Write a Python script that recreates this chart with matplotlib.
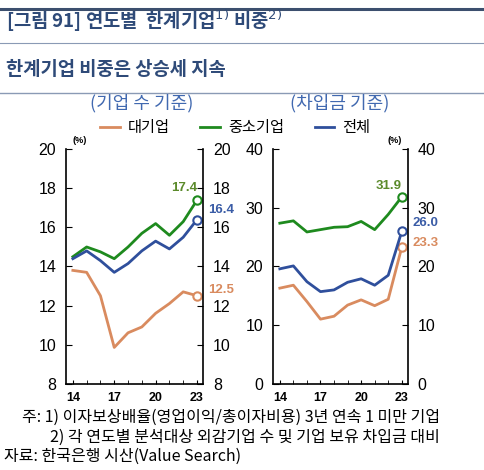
import matplotlib
matplotlib.use('Agg')
import matplotlib.pyplot as plt
from matplotlib.lines import Line2D

plt.rcParams['font.family'] = ['Noto Sans CJK KR', 'DejaVu Sans']

years = [14, 15, 16, 17, 18, 19, 20, 21, 22, 23]
year_labels = ['14', '17', '20', '23']

# 기업 수 기준 (%)
cnt_large = [13.8, 13.7, 12.5, 9.85, 10.6, 10.9, 11.6, 12.1, 12.7, 12.5]
cnt_sme = [14.5, 15.0, 14.75, 14.4, 15.0, 15.7, 16.2, 15.6, 16.3, 17.4]
cnt_total = [14.4, 14.8, 14.3, 13.7, 14.15, 14.8, 15.3, 14.9, 15.5, 16.4]

# 차입금 기준 (%)
debt_large = [16.3, 16.8, 14.0, 11.0, 11.5, 13.4, 14.3, 13.3, 14.4, 23.3]
debt_sme = [27.4, 27.8, 25.9, 26.3, 26.7, 26.8, 27.7, 26.3, 28.9, 31.9]
debt_total = [19.6, 20.1, 17.4, 15.7, 16.0, 17.3, 17.9, 16.8, 18.5, 26.0]

c_large = '#D98B5F'
c_sme = '#1E8A1E'
c_total = '#2F4F9C'
c_lbl_sme = '#5B8A2B'
c_lbl_total = '#3A5CA6'
c_head = '#2E4A78'
num_font = 'Liberation Sans'

fig = plt.figure(figsize=(4.85, 4.70), dpi=100)

# header lines and titles
fig.add_artist(Line2D([0.0, 1.0], [0.981, 0.981], color='#3C4F6E', lw=2.2))
fig.add_artist(Line2D([0.0, 1.0], [0.909, 0.909], color='#8A9AB5', lw=0.8))
fig.add_artist(Line2D([0.0, 1.0], [0.803, 0.803], color='#8A9AB5', lw=1.0))
fig.text(0.012, 0.955, '[그림 91] 연도별  한계기업$^{1)}$ 비중$^{2)}$', fontsize=13.5,
         fontweight='bold', color=c_head, va='center')
fig.text(0.012, 0.853, '한계기업 비중은 상승세 지속', fontsize=13.5,
         fontweight='bold', color=c_head, va='center')
fig.text(0.292, 0.780, '(기업 수 기준)', fontsize=13, color='#4169B0', ha='center', va='center')
fig.text(0.700, 0.780, '(차입금 기준)', fontsize=13, color='#4169B0', ha='center', va='center')

handles = [Line2D([], [], color=c_large, lw=2),
           Line2D([], [], color=c_sme, lw=2),
           Line2D([], [], color=c_total, lw=2)]
fig.legend(handles, ['대기업', '중소기업', '전체'], loc='center', bbox_to_anchor=(0.485, 0.728),
           ncol=3, frameon=False, fontsize=11, handlelength=1.3, columnspacing=2.0,
           handletextpad=0.5)


def draw_panel(ax, large, sme, total, ylim, yticks, labels, pct_x):
    for vals, col in [(large, c_large), (sme, c_sme), (total, c_total)]:
        ax.plot(years, vals, color=col, lw=2)
        ax.plot(years[-1], vals[-1], 'o', ms=6, mfc='white', mec=col, mew=1.5)
    ax.set_xlim(13.5, 23.45)
    ax.set_ylim(*ylim)
    ax.set_yticks(yticks)
    ax.set_xticks(years, minor=True)
    ax.set_xticks([14, 17, 20, 23])
    ax.set_xticklabels(year_labels, fontweight='bold', fontsize=9, family=num_font)
    for t in ax.get_yticklabels() + ax.get_yticklabels(which='major'):
        t.set_family(num_font)
    ax.tick_params(axis='y', direction='in', right=True, labelright=True,
                   labelsize=11.5, length=4, pad=7)
    for t in ax.yaxis.get_ticklabels() + [tk.label2 for tk in ax.yaxis.get_major_ticks()]:
        t.set_family(num_font)
    ax.tick_params(axis='x', which='both', direction='in', length=3, pad=6)
    ax.spines['top'].set_visible(False)
    for sp in ax.spines.values():
        sp.set_linewidth(1.2)
    ax.text(pct_x, 1.02, '(%)', transform=ax.transAxes, fontsize=6.5,
            fontweight='bold', ha='center', va='bottom', family=num_font)
    for txt, yv, col, dx, ha in labels:
        ax.annotate(txt, (23, yv), xytext=(dx, 0), textcoords='offset points',
                    color=col, fontsize=9.5, fontweight='bold', ha=ha, va='center',
                    family=num_font)


ax1 = fig.add_axes([0.136, 0.184, 0.283, 0.498])
draw_panel(ax1, cnt_large, cnt_sme, cnt_total, (8, 20), [8, 10, 12, 14, 16, 18, 20],
           [('17.4', 18.0, c_lbl_sme, 0, 'right'),
            ('16.4', 16.9, c_lbl_total, 8, 'left'),
            ('12.5', 12.8, c_large, 8, 'left')], 0.1)

ax2 = fig.add_axes([0.563, 0.184, 0.278, 0.498])
draw_panel(ax2, debt_large, debt_sme, debt_total, (0, 40), [0, 10, 20, 30, 40],
           [('31.9', 33.8, c_lbl_sme, 0, 'right'),
            ('26.0', 27.5, c_lbl_total, 8, 'left'),
            ('23.3', 24.0, c_large, 8, 'left')], 0.9)

fig.text(0.045, 0.112, '주: 1) 이자보상배율(영업이익/총이자비용) 3년 연속 1 미만 기업', fontsize=11.5, va='center')
fig.text(0.103, 0.070, '2) 각 연도별 분석대상 외감기업 수 및 기업 보유 차입금 대비', fontsize=11.5, va='center')
fig.text(0.008, 0.030, '자료: 한국은행 시산(Value Search)', fontsize=11.5, va='center')

fig.savefig('out.png', dpi=100, facecolor='white')
